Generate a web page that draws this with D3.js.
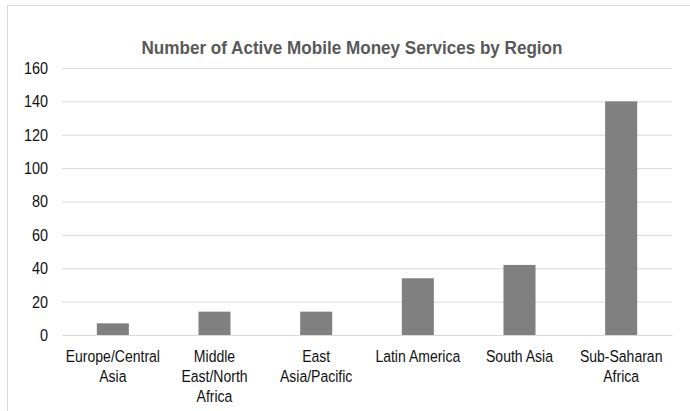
<!DOCTYPE html>
<html>
<head>
<meta charset="utf-8">
<script src="https://cdn.jsdelivr.net/npm/d3@7"></script>
<style>
  html, body { margin: 0; padding: 0; background: #fff; }
  svg { display: block; }
  text { font-family: "Liberation Sans", Arial, sans-serif; }
</style>
</head>
<body>
<svg id="chart" width="690" height="411"></svg>
<script>
// Mobile money services by region
const categories = [
  ["Europe/Central", "Asia"],
  ["Middle", "East/North", "Africa"],
  ["East", "Asia/Pacific"],
  ["Latin America"],
  ["South Asia"],
  ["Sub-Saharan", "Africa"]
];
const services = [7, 14, 14, 34, 42, 140];
const yTicks = [0, 20, 40, 60, 80, 100, 120, 140, 160];
const title = "Number of Active Mobile Money Services by Region";

// condensed lettering: regular face squeezed horizontally
const NARROW = 0.85;

const svg = d3.select("#chart");
const W = 690, H = 411;
const margin = { left: 62, right: 18, top: 68, bottom: 76 };
const plotW = W - margin.left - margin.right;
const plotH = H - margin.top - margin.bottom;

// chart frame
svg.append("rect")
  .attr("x", 7.5).attr("y", 5.5)
  .attr("width", 700).attr("height", 420)
  .attr("fill", "#fff").attr("stroke", "#d9d9d9").attr("stroke-width", 1);

const g = svg.append("g").attr("transform", `translate(${margin.left},${margin.top})`);

const keys = categories.map(d => d.join(" "));
const pad = 0.685;
const x = d3.scaleBand().domain(keys).range([0, plotW]).paddingInner(pad).paddingOuter(pad / 2);
const y = d3.scaleLinear().domain([0, 160]).range([plotH, 0]);

// gridlines and value axis
const yAxis = d3.axisLeft(y).tickValues(yTicks).tickSize(-plotW).tickPadding(14);
g.append("g").call(yAxis)
  .call(a => a.select(".domain").remove())
  .call(a => a.selectAll(".tick line").attr("stroke", "#d9d9d9"))
  .call(a => a.selectAll(".tick text")
    .attr("font-size", 17)
    .attr("font-family", null)
    .attr("x", -14 / NARROW)
    .attr("transform", `scale(${NARROW},1)`)
    .style("fill", "#111"));

// bars
g.selectAll("rect.bar").data(services).join("rect")
  .attr("class", "bar")
  .attr("x", (d, i) => x(keys[i]))
  .attr("width", x.bandwidth())
  .attr("y", d => y(d))
  .attr("height", d => plotH - y(d))
  .attr("fill", "#808080");

// category axis
const xAxis = d3.axisBottom(x).tickSize(0).tickFormat("");
const xg = g.append("g").attr("transform", `translate(0,${plotH})`).call(xAxis);
xg.select(".domain").attr("stroke", "#d9d9d9");
xg.selectAll(".tick").each(function (k, i) {
  const t = d3.select(this).append("text")
    .attr("text-anchor", "middle")
    .attr("font-size", 16.5)
    .attr("transform", `scale(${NARROW},1)`)
    .style("fill", "#111");
  categories[i].forEach((line, j) => {
    t.append("tspan").attr("x", 0).attr("y", 27 + j * 20).text(line);
  });
});

// title
svg.append("text")
  .attr("transform", `translate(352,54) scale(0.9,1)`)
  .attr("text-anchor", "middle")
  .attr("font-size", 19)
  .attr("font-weight", "bold")
  .style("fill", "#595959")
  .text(title);
</script>
</body>
</html>
